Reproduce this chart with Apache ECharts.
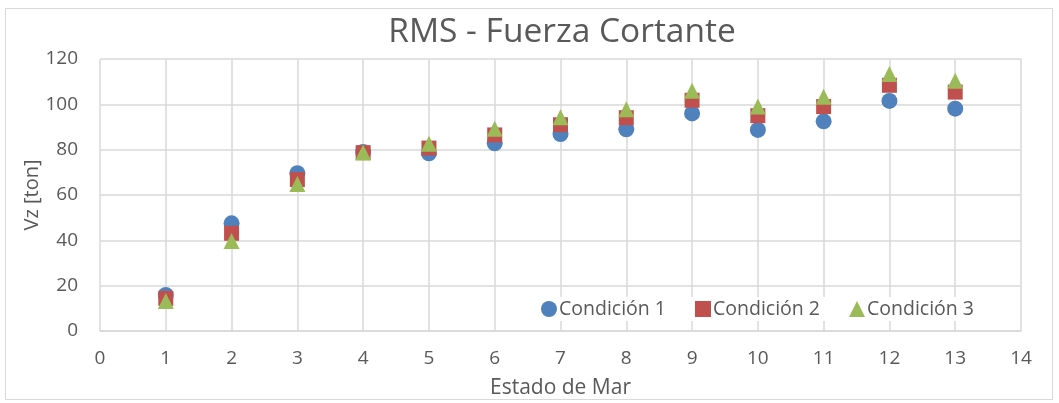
<!DOCTYPE html>
<html>
<head>
<meta charset="utf-8">
<script src="https://cdn.jsdelivr.net/npm/echarts@6/dist/echarts.min.js"></script>
<style>
html,body{margin:0;padding:0;background:#fff;}
#frame{position:absolute;left:5px;top:8px;width:1048px;height:392px;border:1px solid #d9d9d9;box-sizing:border-box;}
#c{position:absolute;left:0;top:0;width:1059px;height:403px;}
</style>
</head>
<body>
<div id="frame"></div>
<div id="c"></div>
<script>
const estados = [1,2,3,4,5,6,7,8,9,10,11,12,13];
const condicion1 = [15.9,47.5,69.6,79.0,78.4,82.8,86.9,89.0,96.0,88.7,92.5,101.5,98.1];
const condicion2 = [14.4,43.1,66.8,78.7,80.7,86.5,91.0,94.1,101.8,95.0,99.0,108.4,105.4];
const condicion3 = [13.2,39.7,64.8,78.7,82.6,89.2,94.3,97.8,106.0,99.0,103.4,113.4,110.4];
const seriesNames = ['Condición 1','Condición 2','Condición 3'];
const colors = ['#4f81bd','#c0504d','#9bbb59'];
const symbols = ['circle','rect','triangle'];
const symbolSizes = [16,15,16];
const FONT = 'Open Sans';
const chart = echarts.init(document.getElementById('c'), null, {renderer:'canvas'});
const dataSets = [condicion1, condicion2, condicion3];
chart.setOption({
  animation:false,
  backgroundColor:'transparent',
  textStyle:{fontFamily:FONT},
  title:{text:'RMS - Fuerza Cortante',top:15,textStyle:{fontFamily:FONT,fontSize:33.5,fontWeight:'normal',color:'#595959'},padding:0, left:562, textAlign:'center'},
  grid:{left:100,right:38,top:59,bottom:72,containLabel:false,outerBoundsMode:'none'},
  legend:{
    data:seriesNames.map((n,i)=>({name:n,icon:symbols[i]})),
    left:539, top:297, itemWidth:16, itemHeight:16, itemGap:29,
    textStyle:{fontFamily:FONT,fontSize:19.5,color:'#595959',padding:[0,0,0,-3]},
    backgroundColor:'#fff', padding:[2,6,2,2]
  },
  xAxis:{
    type:'value', min:0, max:14, interval:1,
    name:'Estado de Mar', nameLocation:'middle', nameGap:47,
    nameTextStyle:{fontFamily:FONT,fontSize:21,color:'#595959'},
    axisLine:{show:true,lineStyle:{color:'#d9d9d9',width:1.5}},
    axisTick:{show:false},
    axisLabel:{fontFamily:FONT,fontSize:19,color:'#595959',margin:18},
    splitLine:{show:true,lineStyle:{color:'#d9d9d9',width:1.5}}
  },
  yAxis:{
    type:'value', min:0, max:120, interval:20,
    name:'Vz [ton]', nameLocation:'middle', nameGap:58, nameRotate:90, nameMoveOverlap:false,
    nameTextStyle:{fontFamily:FONT,fontSize:20,color:'#595959'},
    axisLine:{show:false},
    axisTick:{show:false},
    axisLabel:{fontFamily:FONT,fontSize:19,color:'#595959',margin:22},
    splitLine:{show:true,lineStyle:{color:'#d9d9d9',width:1.5}}
  },
  series:dataSets.map((d,i)=>({
    name:seriesNames[i], type:'scatter', symbol:symbols[i], symbolSize:symbolSizes[i],
    itemStyle:{color:colors[i],opacity:1},
    data:estados.map((x,j)=>[x,d[j]])
  }))
});
</script>
</body>
</html>
